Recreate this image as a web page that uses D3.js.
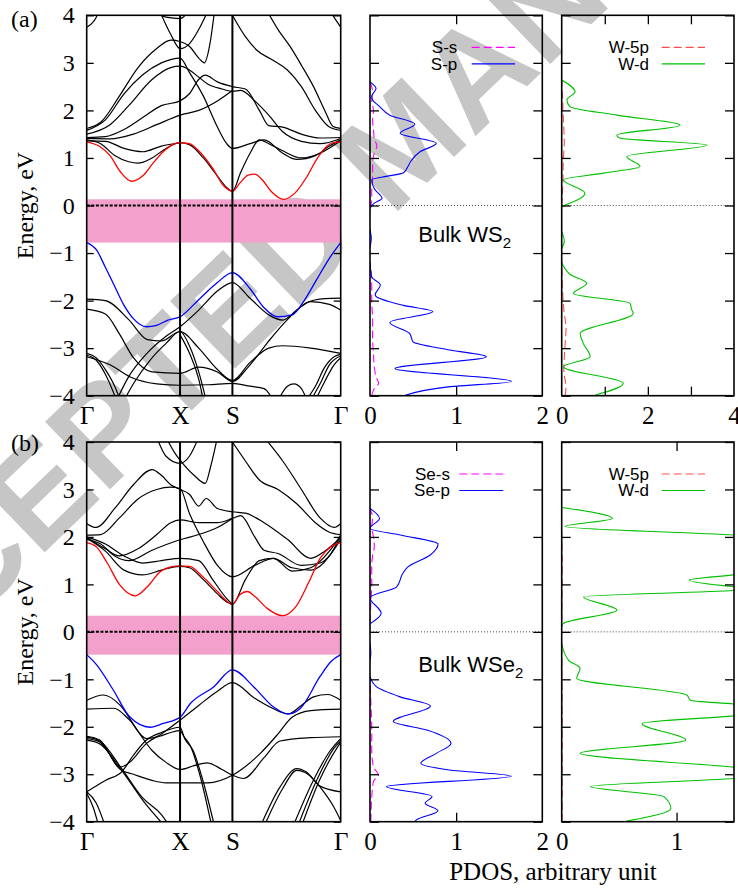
<!DOCTYPE html>
<html>
<head>
<meta charset="utf-8">
<script src="https://cdn.jsdelivr.net/npm/d3@7"></script>
<style>
  body { margin: 0; background: #fff; }
  text { font-family: "Liberation Serif", "Times New Roman", serif; }
  .sans { font-family: "Liberation Sans", Arial, sans-serif; }
</style>
</head>
<body>
<svg id="fig" width="738" height="890"></svg>
<script>
// ---- axes data ----
var energyTicks = [-4, -3, -2, -1, 0, 1, 2, 3, 4];
var kTicks = [0, 1, 1.561, 2.721];
var kLabels = ["\u0393", "X", "S", "\u0393"];

// ---- (a) bulk WS2 bands: [k, E] ----
var gapWS2 = [-0.78, 0.13];
var redWS2 = [[0,1.34],[0.14,1.24],[0.25,1.05],[0.36,0.71],[0.48,0.51],[0.61,0.64],[0.71,0.89],[0.82,1.13],[0.93,1.29],[1,1.32],[1.1,1.3],[1.2,1.15],[1.35,0.78],[1.46,0.43],[1.561,0.3],[1.64,0.47],[1.73,0.64],[1.8,0.66],[1.88,0.54],[1.98,0.29],[2.11,0.13],[2.23,0.26],[2.36,0.61],[2.46,0.96],[2.57,1.24],[2.64,1.32],[2.721,1.34]];
var blueWS2 = [[0,-0.78],[0.107,-0.94],[0.2,-1.3],[0.285,-1.64],[0.4,-2.1],[0.5,-2.38],[0.64,-2.55],[0.75,-2.52],[0.87,-2.41],[1,-2.34],[1.2,-1.98],[1.4,-1.62],[1.561,-1.41],[1.75,-1.75],[1.9,-2.15],[2.04,-2.34],[2.2,-2.3],[2.33,-2.0],[2.46,-1.57],[2.61,-1.08],[2.721,-0.78]];
var blackWS2 = [
  [[0,3.75],[0.05,3.82],[0.1,3.95],[0.13,4.1]],
  [[0,1.62],[0.15,1.75],[0.35,2.3],[0.55,2.9],[0.75,3.3],[0.9,3.48],[1,3.45],[1.1,3.35],[1.2,3.1],[1.26,3.0],[1.32,3.4],[1.37,4.1]],
  [[0,1.58],[0.2,1.8],[0.4,2.35],[0.6,2.75],[0.8,3.0],[1,3.1],[1.1,2.8],[1.25,2.3],[1.4,1.65],[1.5,1.3],[1.561,1.2],[1.75,1.3],[1.9,1.38],[2.1,1.1],[2.25,0.97],[2.45,1.05],[2.6,1.25],[2.721,1.38]],
  [[0,1.5],[0.25,1.7],[0.45,2.1],[0.7,2.65],[0.9,2.9],[1,2.93],[1.1,2.85],[1.2,2.7],[1.3,2.55],[1.45,2.45],[1.561,2.4],[1.65,2.42],[1.8,2.2],[1.95,1.9],[2.1,1.55],[2.3,1.35],[2.5,1.3],[2.721,1.41]],
  [[0,1.43],[0.2,1.45],[0.4,1.6],[0.6,1.85],[0.8,2.1],[1,2.2],[1.1,2.35],[1.2,2.65],[1.27,2.74],[1.4,2.6],[1.561,2.5],[1.7,2.45],[1.85,2.0],[1.95,1.68],[2.1,1.65],[2.3,1.5],[2.5,1.42],[2.721,1.43]],
  [[0,1.41],[0.25,1.4],[0.5,1.5],[0.75,1.7],[1,1.9],[1.2,2.0],[1.4,2.2],[1.561,2.42]],
  [[0,1.38],[0.15,1.3],[0.3,1.05],[0.45,0.92],[0.55,0.89],[0.7,1.0],[0.85,1.2],[1,1.32],[1.1,1.28],[1.25,1.0],[1.4,0.62],[1.5,0.38],[1.561,0.3],[1.65,0.7],[1.75,1.1],[1.85,1.38],[1.95,1.3],[2.1,1.15],[2.3,1.0],[2.5,1.1],[2.721,1.36]],
  [[0,1.36],[0.2,1.35],[0.4,1.2],[0.6,1.13],[0.8,1.25],[1,1.32]],
  [[0.78,4.1],[0.9,3.6],[1,3.3],[1.1,3.4],[1.2,3.7],[1.3,4.1]],
  [[0.7,4.1],[0.85,3.96],[1,3.93],[1.1,4.1]],
  [[1.561,4.0],[1.7,3.55],[1.82,3.27],[2.0,3.05],[2.15,2.85],[2.3,2.5],[2.45,2.0],[2.6,1.65],[2.721,1.58]],
  [[1.93,4.1],[2.05,3.7],[2.18,3.34],[2.3,2.95],[2.43,2.5],[2.55,2.0],[2.64,1.66],[2.721,1.62]],
  [[2.6,4.1],[2.67,3.9],[2.721,3.75]],
  [[0,-1.97],[0.2,-2.0],[0.45,-2.4],[0.65,-2.82],[0.8,-2.85],[1,-2.65],[1.2,-3.0],[1.4,-3.45],[1.561,-3.68],[1.75,-3.3],[1.95,-3.0],[2.1,-2.95],[2.4,-3.0],[2.721,-3.11]],
  [[0,-2.18],[0.2,-2.28],[0.35,-2.7],[0.5,-3.2],[0.7,-3.5],[1,-3.53],[1.2,-3.4],[1.4,-3.5],[1.561,-3.7],[1.75,-3.35],[1.95,-2.85],[2.15,-2.4],[2.35,-2.05],[2.55,-1.96],[2.721,-1.95]],
  [[0.32,-4.1],[0.45,-3.6],[0.65,-3.1],[0.85,-2.75],[1,-2.55],[1.2,-2.2],[1.4,-1.8],[1.561,-1.62],[1.75,-1.95],[1.95,-2.3],[2.1,-2.41],[2.25,-2.2],[2.4,-2.02],[2.6,-2.08],[2.721,-2.2]],
  [[0.4,-4.1],[0.5,-3.75],[0.68,-3.25],[0.85,-2.9],[1,-2.65],[1.1,-2.95],[1.2,-3.5],[1.28,-4.1]],
  [[1,-2.72],[1.1,-3.1],[1.2,-3.65],[1.25,-4.1]],
  [[0,-3.11],[0.1,-3.2],[0.2,-3.45],[0.3,-3.8],[0.36,-4.1]],
  [[0,-3.15],[0.1,-3.25],[0.2,-3.55],[0.28,-3.9],[0.32,-4.1]],
  [[0,-3.18],[0.25,-3.35],[0.46,-3.6],[0.75,-3.75],[1,-3.78],[1.3,-3.77],[1.561,-3.74],[1.75,-3.8],[1.9,-3.85],[2.0,-4.1]],
  [[2.35,-4.1],[2.45,-3.8],[2.55,-3.4],[2.65,-3.18],[2.721,-3.13]],
  [[2.4,-4.1],[2.5,-3.75],[2.6,-3.35],[2.721,-3.16]],
  [[2.45,-4.1],[2.55,-3.7],[2.65,-3.35],[2.721,-3.2]],
  [[2.05,-4.1],[2.15,-3.8],[2.22,-3.75],[2.3,-3.85],[2.36,-4.1]]
];

// ---- (b) bulk WSe2 bands ----
var gapWSe2 = [-0.48, 0.34];
var redWSe2 = [[0,1.88],[0.1,1.8],[0.22,1.45],[0.35,1.0],[0.52,0.76],[0.65,0.95],[0.79,1.27],[0.9,1.37],[1,1.39],[1.1,1.38],[1.25,1.15],[1.4,0.85],[1.5,0.65],[1.561,0.58],[1.64,0.78],[1.72,0.85],[1.8,0.75],[1.93,0.5],[2.1,0.34],[2.24,0.53],[2.38,1.05],[2.5,1.55],[2.62,1.8],[2.721,1.88]];
var blueWSe2 = [[0,-0.48],[0.1,-0.68],[0.286,-1.23],[0.46,-1.79],[0.68,-2.01],[0.82,-1.93],[1,-1.8],[1.11,-1.51],[1.36,-1.16],[1.561,-0.8],[1.79,-1.16],[2.0,-1.58],[2.16,-1.73],[2.29,-1.61],[2.5,-0.94],[2.62,-0.62],[2.721,-0.48]];
var blackWSe2 = [
  [[0,2.28],[0.1,2.2],[0.3,2.6],[0.5,3.1],[0.7,3.42],[0.8,3.3],[0.9,3.1],[1,3.0],[1.1,2.9],[1.2,2.65],[1.28,2.81],[1.4,2.6],[1.561,2.53],[1.7,2.5],[1.9,2.3],[2.15,1.95],[2.4,1.55],[2.55,1.7],[2.721,1.99]],
  [[0,2.04],[0.15,2.05],[0.35,2.4],[0.55,2.8],[0.75,3.0],[0.9,3.05],[1,3.02],[1.1,2.5],[1.25,1.9],[1.4,1.4],[1.561,1.16],[1.8,1.4],[2.0,1.55],[2.2,1.35],[2.4,1.3],[2.6,1.6],[2.721,2.02]],
  [[0,1.99],[0.2,1.75],[0.35,1.6],[0.55,1.75],[0.75,2.05],[0.9,2.3],[1,2.36],[1.2,2.3],[1.4,2.3],[1.561,2.39],[1.65,2.45],[1.8,2.0],[1.9,1.72],[2.05,1.65],[2.3,1.4],[2.5,1.45],[2.721,1.95]],
  [[0,1.95],[0.15,1.85],[0.3,1.6],[0.45,1.5],[0.7,1.72],[1,1.94],[1.2,2.05],[1.4,2.2],[1.561,2.39]],
  [[0,1.97],[0.2,1.7],[0.4,1.3],[0.6,1.2],[0.8,1.3],[1,1.38],[1.1,1.35],[1.25,1.1],[1.4,0.8],[1.5,0.63],[1.561,0.58],[1.7,1.1],[1.85,1.5],[2.0,1.55],[2.2,1.28],[2.4,1.35],[2.6,1.7],[2.721,2.04]],
  [[0,2.0],[0.2,1.85],[0.4,1.6],[0.6,1.45],[0.8,1.5],[1,1.55],[1.2,1.5],[1.35,1.1],[1.5,0.7],[1.561,0.58]],
  [[0.75,4.1],[0.85,3.7],[1,3.55],[1.1,3.7],[1.2,4.1]],
  [[0.85,4.1],[0.95,3.75],[1,3.62],[1.15,3.3],[1.27,3.13],[1.33,3.5],[1.4,4.1]],
  [[1.561,4.0],[1.7,3.6],[1.85,3.2],[2.05,3.0],[2.25,2.7],[2.45,2.3],[2.6,2.1],[2.721,2.05]],
  [[1.9,4.1],[2.1,3.6],[2.3,3.0],[2.5,2.4],[2.65,2.2],[2.721,2.28]],
  [[0,-1.44],[0.18,-1.33],[0.36,-1.55],[0.55,-2.1],[0.7,-2.5],[0.85,-2.75],[1,-2.9],[1.15,-2.82],[1.29,-2.76],[1.45,-2.9],[1.561,-3.02],[1.68,-3.09],[1.9,-2.65],[2.07,-2.3],[2.4,-2.23],[2.721,-2.21]],
  [[0,-1.63],[0.29,-1.61],[0.46,-1.86],[0.64,-2.25],[0.78,-2.2],[0.9,-2.12],[1,-2.08],[1.04,-2.2],[1.11,-2.4],[1.21,-3.0],[1.34,-4.1]],
  [[0,-3.37],[0.21,-3.12],[0.375,-2.95],[0.5,-2.6],[0.64,-2.28],[0.8,-2.12],[1,-2.01],[1.05,-2.25],[1.14,-2.5],[1.24,-3.1],[1.37,-4.1]],
  [[0,-2.2],[0.14,-2.28],[0.36,-2.85],[0.46,-2.75],[0.64,-2.35],[0.8,-2.15],[1,-1.86],[1.2,-1.55],[1.4,-1.25],[1.561,-1.07],[1.8,-1.4],[2.0,-1.62],[2.16,-1.73],[2.3,-1.55],[2.43,-1.37],[2.58,-1.32],[2.721,-1.44]],
  [[0,-2.25],[0.14,-2.32],[0.36,-2.9],[0.5,-3.0],[0.7,-3.13],[0.85,-3.18],[1,-3.18],[1.3,-3.18],[1.561,-3.02],[1.86,-2.56],[2.05,-2.15],[2.2,-1.8],[2.4,-1.66],[2.721,-1.63]],
  [[0,-2.22],[0.14,-2.3],[0.375,-2.88],[0.6,-3.5],[0.8,-3.85],[0.89,-4.1]],
  [[0,-2.28],[0.14,-2.36],[0.39,-2.96],[0.62,-3.6],[0.84,-4.1]],
  [[0,-3.37],[0.1,-3.6],[0.2,-4.1]],
  [[0,-3.4],[0.07,-3.7],[0.13,-4.1]],
  [[1.86,-4.1],[2.07,-3.27],[2.25,-2.88],[2.35,-2.95],[2.5,-3.25],[2.721,-3.37]],
  [[1.9,-4.1],[2.1,-3.3],[2.25,-2.92],[2.37,-3.0],[2.55,-3.4],[2.65,-3.7],[2.75,-4.1]],
  [[2.21,-4.1],[2.43,-3.12],[2.61,-2.5],[2.721,-2.25]],
  [[2.26,-4.1],[2.47,-3.1],[2.65,-2.45],[2.721,-2.3]],
  [[2.3,-4.1],[2.5,-3.1],[2.68,-2.45],[2.721,-2.33]]
];

// ---- PDOS: [E, value], null = gap ----
var sSWS2 = [[2.6,0],[2.4,0.03],[2.2,0.02],[2.0,0.04],[1.8,0.03],[1.6,0.04],[1.4,0.05],[1.25,0.08],[1.1,0.05],[0.9,0.03],[0.6,0.03],[0.3,0.02],[0.1,0.02],[-0.06,0],null,[-1.2,0],[-1.6,0.02],[-2.0,0.02],[-2.4,0.03],[-2.8,0.03],[-3.1,0.04],[-3.4,0.05],[-3.6,0.07],[-3.74,0.1],[-3.85,0.05],[-4.0,0.02]];
var sPWS2 = [[2.6,0],[2.46,0.07],[2.3,0.02],[2.22,0.03],[2.1,0.1],[1.9,0.23],[1.71,0.52],[1.52,0.35],[1.31,0.77],[1.13,0.58],[0.92,0.47],[0.82,0.44],[0.69,0.39],[0.6,0.15],[0.54,0.02],[0.35,0.05],[0.15,0.14],[0.05,0.05],[-0.06,0],null,[-0.5,0],[-0.7,0.015],[-0.88,0],null,[-1.2,0],[-1.5,0.02],[-1.67,0.12],[-1.88,0.06],[-2.1,0.39],[-2.23,0.73],[-2.46,0.23],[-2.69,0.46],[-2.87,0.5],[-3.04,0.93],[-3.18,1.35],[-3.43,0.29],[-3.7,1.64],[-3.81,0.93],[-4.0,0.39]];
var w5pWS2 = [[2.64,0],[2.3,0.02],[2.0,0.03],[1.6,0.05],[1.3,0.06],[1.0,0.04],[0.6,0.03],[0.3,0.02],[-0.02,0],null,[-1.2,0],[-1.8,0.02],[-2.2,0.05],[-2.6,0.1],[-2.9,0.08],[-3.2,0.06],[-3.5,0.05],[-3.8,0.1],[-4.0,0.08]];
var wDWS2 = [[2.64,0],[2.39,0.31],[2.22,0.12],[2.08,0.19],[1.9,1.28],[1.69,2.75],[1.48,1.28],[1.42,1.35],[1.27,3.38],[1.03,1.51],[0.82,1.82],[0.68,0.97],[0.54,0.04],[0.26,0.54],[-0.02,0],null,[-0.55,0],[-0.75,0.06],[-0.9,0],null,[-1.2,0],[-1.45,0.2],[-1.64,0.58],[-1.85,0.27],[-2.06,1.59],[-2.18,1.62],[-2.27,1.66],[-2.69,0.43],[-2.9,0.5],[-3.18,0.66],[-3.39,0.04],[-3.74,1.43],[-4.0,0.74]];

var sSWSe2 = [[2.6,0],[2.4,0.03],[2.2,0.02],[2.0,0.04],[1.8,0.05],[1.6,0.03],[1.4,0.02],[1.0,0.02],[0.6,0.01],[0.2,0],null,[-1.0,0],[-1.5,0.01],[-2.0,0.02],[-2.5,0.02],[-2.85,0.04],[-3.02,0.1],[-3.15,0.04],[-3.5,0.02],[-4.0,0.01]];
var sPWSe2 = [[2.6,0],[2.39,0.11],[2.18,0],[2.04,0.35],[1.85,0.79],[1.62,0.7],[1.37,0.44],[1.23,0.38],[0.95,0.31],[0.72,0],[0.39,0.13],[0.17,0],null,[-0.25,0],[-0.45,0.01],[-0.6,0],null,[-0.94,0],[-1.15,0.07],[-1.37,0.35],[-1.56,0.7],[-1.89,0.27],[-2.07,0.66],[-2.35,0.94],[-2.56,0.77],[-2.77,0.59],[-2.91,0.92],[-3.04,1.64],[-3.26,0.19],[-3.47,0.72],[-3.61,0.64],[-3.77,0.79],[-3.96,0.54],[-4.0,0.52]];
var w5pWSe2 = [[2.1,0],[1.5,0.004],[1.0,0.004],[0.2,0],null,[-0.3,0],[-2.0,0.004],[-4.0,0.004]];
var wDWSe2 = [[2.62,0],[2.39,0.44],[2.22,0.03],[2.04,1.5],[1.85,2.4],[1.62,2.6],[1.4,2.2],[1.2,1.5],[1.09,1.11],[0.95,1.5],[0.91,1.7],[0.87,1.5],[0.74,0.19],[0.46,0.48],[0.17,0.01],[0.1,0],null,[-0.24,0],[-0.6,0.06],[-0.77,0.16],[-0.98,0.13],[-1.33,1.09],[-1.44,1.12],[-1.52,1.5],[-1.65,2.0],[-1.77,1.5],[-1.93,0.7],[-2.28,1.08],[-2.56,0.16],[-2.85,1.5],[-2.97,2.0],[-3.09,1.5],[-3.26,0.25],[-3.47,0.89],[-3.72,0.95],[-4.0,0.54]];

var svg = d3.select("#fig");
svg.append("rect").attr("width", 738).attr("height", 890).attr("fill", "#fff");
var defs = svg.append("defs");

// watermark under everything
svg.append("text").attr("class", "sans")
    .attr("transform", "translate(401,140) rotate(-44)")
    .attr("text-anchor", "middle").attr("dy", "0.36em")
    .style("font-size", "136px").style("font-weight", "bold")
    .attr("fill", "#c6c6c6")
    .text("ACCEPTED MANUSCRIPT");

var bandX = [86.7, 340.7], sX = [370, 542.3], wX = [561.7, 734];

var rows = [
  {top: 15.3, bottom: 395.7, tag: "(a)", gap: gapWS2, red: redWS2, blue: blueWS2, black: blackWS2,
   ss: sSWS2, sp: sPWS2, w5p: w5pWS2, wd: wDWS2, wMax: 4, wTicks: [1, 2, 3], wLabels: [0, 2, 4],
   sNames: ["S-s", "S-p"], sLegX: 457.3, sLineX: [471.7, 515], name: "WS", tagY: 27},
  {top: 442, bottom: 821.7, tag: "(b)", gap: gapWSe2, red: redWSe2, blue: blueWSe2, black: blackWSe2,
   ss: sSWSe2, sp: sPWSe2, w5p: w5pWSe2, wd: wDWSe2, wMax: 1.5, wTicks: [1], wLabels: [0, 1],
   sNames: ["Se-s", "Se-p"], sLegX: 450, sLineX: [459.3, 503.3], name: "WSe", tagY: 451}
];

function styleAxis(g, size) {
  g.attr("font-family", null).attr("font-size", null);
  g.select(".domain").remove();
  g.selectAll("line").attr("stroke", "#000").attr("stroke-width", 1.3);
  g.selectAll("text").style("font-size", size + "px").attr("fill", "#000");
}

function frame(x0, x1, top, bottom) {
  svg.append("rect").attr("x", x0).attr("y", top)
      .attr("width", x1 - x0).attr("height", bottom - top)
      .attr("fill", "none").attr("stroke", "#000").attr("stroke-width", 1.6);
}

function clipFor(id, x0, x1, top, bottom) {
  defs.append("clipPath").attr("id", id).append("rect")
      .attr("x", x0).attr("y", top).attr("width", x1 - x0).attr("height", bottom - top);
  return "url(#" + id + ")";
}

function segments(data) {
  var out = [[]];
  data.forEach(function(d) {
    if (d === null) out.push([]);
    else out[out.length - 1].push(d);
  });
  return out.filter(function(s) { return s.length > 1; })
      .map(function(s) { return s.slice().sort(function(a, b) { return a[0] - b[0]; }); });
}

rows.forEach(function(row, i) {
  var y = d3.scaleLinear().domain([-4, 4]).range([row.bottom, row.top]);

  // ---------- band structure ----------
  var x = d3.scaleLinear().domain([0, kTicks[3]]).range(bandX);
  var clipB = clipFor("cb" + i, bandX[0], bandX[1], row.top, row.bottom);
  var gb = svg.append("g").attr("clip-path", clipB);

  gb.append("rect").attr("x", x(0)).attr("width", x(kTicks[3]) - x(0))
      .attr("y", y(row.gap[1])).attr("height", y(row.gap[0]) - y(row.gap[1]))
      .attr("fill", "#f4a0cc");
  gb.append("line").attr("x1", x(0)).attr("x2", x(kTicks[3]))
      .attr("y1", y(0)).attr("y2", y(0))
      .attr("stroke", "#000").attr("stroke-width", 2).attr("stroke-dasharray", "3,1.6");

  var band = d3.line().x(function(d) { return x(d[0]); }).y(function(d) { return y(d[1]); })
      .curve(d3.curveMonotoneX);
  gb.selectAll("path.blk").data(row.black).join("path").attr("class", "blk")
      .attr("d", band).attr("fill", "none").attr("stroke", "#000").attr("stroke-width", 1.2);
  gb.append("path").attr("d", band(row.red)).attr("fill", "none").attr("stroke", "#ff0000").attr("stroke-width", 1.3);
  gb.append("path").attr("d", band(row.blue)).attr("fill", "none").attr("stroke", "#0000ff").attr("stroke-width", 1.3);

  svg.selectAll(null).data(kTicks.slice(1, 3)).enter().append("line")
      .attr("x1", function(d) { return x(d); }).attr("x2", function(d) { return x(d); })
      .attr("y1", row.top).attr("y2", row.bottom)
      .attr("stroke", "#000").attr("stroke-width", 2);

  svg.append("g").attr("transform", "translate(" + bandX[0] + ",0)")
      .call(d3.axisLeft(y).tickValues(energyTicks).tickSize(-7).tickPadding(12))
      .call(styleAxis, 24);
  svg.append("g").attr("transform", "translate(" + bandX[1] + ",0)")
      .call(d3.axisRight(y).tickValues(energyTicks).tickSize(-7).tickFormat(""))
      .call(styleAxis, 24);
  svg.append("g").attr("transform", "translate(0," + row.bottom + ")")
      .call(d3.axisBottom(x).tickValues(kTicks).tickSize(0).tickPadding(11)
        .tickFormat(function(d, j) { return kLabels[j]; }))
      .call(styleAxis, 25);
  frame(bandX[0], bandX[1], row.top, row.bottom);

  svg.append("text").attr("transform", "translate(32.5," + ((row.top + row.bottom) / 2) + ") rotate(-90)")
      .attr("text-anchor", "middle").style("font-size", "24px").text("Energy, eV");
  svg.append("text").attr("x", 11).attr("y", row.tagY).style("font-size", "24px").text(row.tag);

  // ---------- PDOS panels ----------
  var panels = [
    {xr: sX, max: 2, ticks: [1], labels: [0, 1, 2], series: [
       {data: row.ss, color: "#ff00ff", dash: "8,4", name: row.sNames[0]},
       {data: row.sp, color: "#0000ff", dash: null, name: row.sNames[1]}],
     legX: row.sLegX, legLine: row.sLineX},
    {xr: wX, max: row.wMax, ticks: row.wTicks, labels: row.wLabels, series: [
       {data: row.w5p, color: "#ff4d4d", dash: "8,4", name: "W-5p"},
       {data: row.wd, color: "#00c000", dash: null, name: "W-d"}],
     legX: 649, legLine: [661.7, 705]}
  ];

  panels.forEach(function(p, j) {
    var px = d3.scaleLinear().domain([0, p.max]).range(p.xr);
    var clip = clipFor("cp" + i + "_" + j, p.xr[0], p.xr[1], row.top, row.bottom);
    var g = svg.append("g").attr("clip-path", clip);

    g.append("line").attr("x1", p.xr[0]).attr("x2", p.xr[1]).attr("y1", y(0)).attr("y2", y(0))
        .attr("stroke", "#444").attr("stroke-width", 1).attr("stroke-dasharray", "1,2");

    var dos = d3.line().x(function(d) { return px(d[1]); }).y(function(d) { return y(d[0]); })
        .curve(d3.curveMonotoneY);
    p.series.forEach(function(s) {
      g.selectAll(null).data(segments(s.data)).enter().append("path")
          .attr("d", dos).attr("fill", "none").attr("stroke", s.color)
          .attr("stroke-width", 1.1).attr("stroke-dasharray", s.dash);
    });

    svg.append("g").attr("transform", "translate(" + p.xr[0] + ",0)")
        .call(d3.axisLeft(y).tickValues(energyTicks).tickSize(-9).tickFormat(""))
        .call(styleAxis, 24);
    svg.append("g").attr("transform", "translate(" + p.xr[1] + ",0)")
        .call(d3.axisRight(y).tickValues(energyTicks).tickSize(-9).tickFormat(""))
        .call(styleAxis, 24);
    svg.append("g").attr("transform", "translate(0," + row.top + ")")
        .call(d3.axisTop(px).tickValues(p.ticks).tickSize(-9).tickFormat(""))
        .call(styleAxis, 24);
    svg.append("g").attr("transform", "translate(0," + row.bottom + ")")
        .call(d3.axisBottom(px).tickValues(p.ticks).tickSize(-9).tickFormat(""))
        .call(styleAxis, 24);
    svg.append("g").attr("transform", "translate(0," + row.bottom + ")")
        .call(d3.axisBottom(px).tickValues(p.labels).tickSize(0).tickPadding(11).tickFormat(d3.format("d")))
        .call(styleAxis, 25);
    frame(p.xr[0], p.xr[1], row.top, row.bottom);

    // legend
    p.series.forEach(function(s, m) {
      var ly = row.top + 32 + m * 16.5;
      svg.append("text").attr("class", "sans").attr("x", p.legX).attr("y", ly)
          .attr("dy", "0.35em").attr("text-anchor", "end")
          .style("font-size", "17px").text(s.name);
      svg.append("line").attr("x1", p.legLine[0]).attr("x2", p.legLine[1])
          .attr("y1", ly).attr("y2", ly).attr("stroke", s.color)
          .attr("stroke-width", 1.2).attr("stroke-dasharray", s.dash);
    });
  });

  // material label
  var lab = svg.append("text").attr("class", "sans").attr("x", 418.3)
      .attr("y", i === 0 ? 242 : 672).style("font-size", "22px");
  lab.append("tspan").text("Bulk " + row.name);
  lab.append("tspan").attr("dy", 6).style("font-size", "15px").text("2");
});

svg.append("text").attr("x", 553).attr("y", 880).attr("text-anchor", "middle")
    .style("font-size", "25px").text("PDOS, arbitrary unit");
</script>
</body>
</html>
